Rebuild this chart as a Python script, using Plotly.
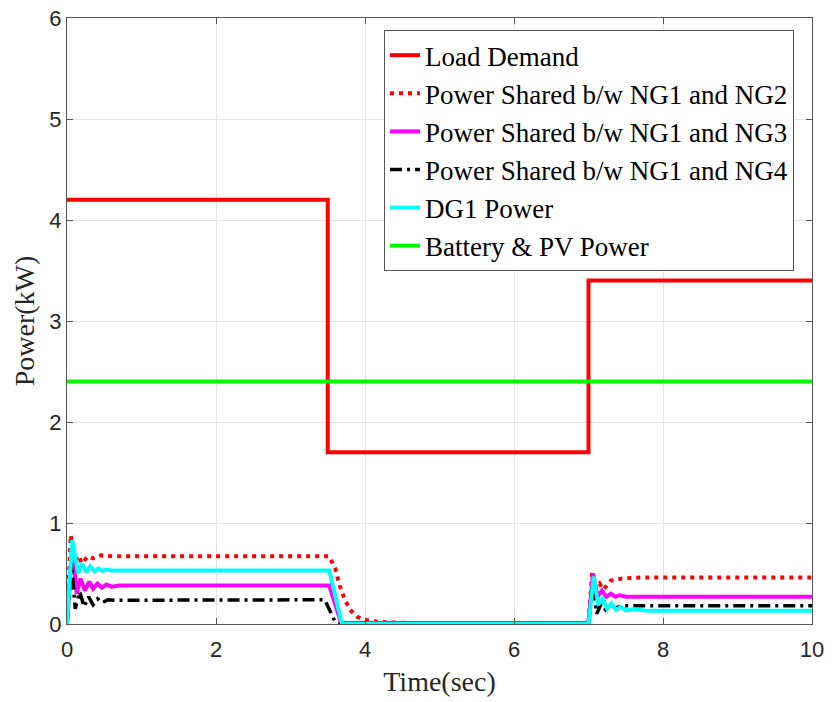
import plotly.graph_objects as go

# ---- data ----
load_t = [0, 3.5, 7, 10]
load_p = [4.2, 1.7, 3.4, 3.4]

batt_t = [0, 10]
batt_p = [2.4, 2.4]

ng2_t = [0, 0.05, 0.1, 0.15, 0.2, 0.28, 0.35, 0.45, 0.6, 3.52, 3.6, 3.66, 3.73, 3.8, 3.9, 4.0, 4.2, 4.6,
         7.0, 7.05, 7.1, 7.15, 7.2, 7.3, 7.45, 7.7, 10]
ng2_p = [0, 0.88, 0.62, 0.68, 0.6, 0.67, 0.65, 0.68, 0.67, 0.67, 0.55, 0.38, 0.24, 0.14, 0.07, 0.04, 0.02, 0.01,
         0.01, 0.52, 0.36, 0.40, 0.34, 0.43, 0.45, 0.46, 0.46]

ng3_t = [0, 0.07, 0.13, 0.18, 0.24, 0.3, 0.35, 0.41, 0.47, 0.53, 0.6, 0.7, 3.52, 3.68,
         7.0, 7.06, 7.12, 7.18, 7.24, 7.3, 7.36, 7.42, 7.5, 10]
ng3_p = [0, 0.78, 0.30, 0.45, 0.33, 0.42, 0.35, 0.40, 0.36, 0.39, 0.37, 0.38, 0.38, 0.01,
         0.01, 0.50, 0.27, 0.33, 0.27, 0.30, 0.27, 0.285, 0.27, 0.27]

ng4_t = [0, 0.06, 0.11, 0.17, 0.23, 0.29, 0.35, 0.41, 0.47, 0.55, 0.65, 3.46, 3.6, 3.7,
         7.0, 7.06, 7.11, 7.17, 7.23, 7.3, 7.36, 7.45, 10]
ng4_p = [0, 0.6, 0.15, 0.32, 0.17, 0.27, 0.19, 0.25, 0.21, 0.24, 0.235, 0.24, 0.02, 0.0,
         0.0, 0.42, 0.10, 0.20, 0.14, 0.19, 0.16, 0.18, 0.18]

dg1_t = [0, 0.07, 0.15, 0.2, 0.26, 0.31, 0.37, 0.42, 0.48, 0.53, 0.6, 0.8, 3.52, 3.69,
         7.0, 7.07, 7.13, 7.19, 7.25, 7.31, 7.37, 7.43, 7.5, 7.6, 7.8, 10]
dg1_p = [0, 0.83, 0.50, 0.60, 0.51, 0.57, 0.52, 0.55, 0.525, 0.54, 0.53, 0.53, 0.53, 0.0,
         0.0, 0.47, 0.19, 0.25, 0.15, 0.20, 0.14, 0.17, 0.135, 0.145, 0.13, 0.13]

x_ticks = [0, 2, 4, 6, 8, 10]
y_ticks = [0, 1, 2, 3, 4, 5, 6]

fig = go.Figure()
fig.add_trace(go.Scatter(x=load_t, y=load_p, mode="lines", line=dict(color="#FF0000", width=4, shape="hv"),
                         name="Load Demand", legendgroup="a"))
fig.add_trace(go.Scatter(x=ng2_t, y=ng2_p, mode="lines", line=dict(color="#FF0000", width=4, dash="4px,5px"),
                         name="Power Shared b/w NG1 and NG2", legendgroup="b"))
fig.add_trace(go.Scatter(x=ng3_t, y=ng3_p, mode="lines", line=dict(color="#FF00FF", width=4),
                         name="Power Shared b/w NG1 and NG3", legendgroup="c"))
fig.add_trace(go.Scatter(x=ng4_t, y=ng4_p, mode="lines", line=dict(color="#000000", width=3.5, dash="12px,5px,3px,5px"),
                         name="Power Shared b/w NG1 and NG4", legendgroup="d"))
fig.add_trace(go.Scatter(x=dg1_t, y=dg1_p, mode="lines", line=dict(color="#00FFFF", width=4),
                         name="DG1 Power", legendgroup="e"))
fig.add_trace(go.Scatter(x=batt_t, y=batt_p, mode="lines", line=dict(color="#00FF00", width=4),
                         name="Battery & PV Power", legendgroup="f"))

axis_common = dict(showline=True, linecolor="#555555", linewidth=1, mirror="ticks",
                   ticks="inside", ticklen=6, tickcolor="#555555",
                   showgrid=True, gridcolor="#E3E3E3", gridwidth=1, zeroline=False,
                   automargin=False,
                   tickfont=dict(family="Liberation Sans, Arial", size=22, color="#262626"))

title_font = dict(family="Liberation Serif, Times New Roman", size=28, color="#262626")

fig.update_layout(
    width=832, height=702,
    margin=dict(l=67, r=20, t=18, b=78),
    plot_bgcolor="white", paper_bgcolor="white",
    showlegend=True,
    legend=dict(x=0.4255, y=0.980, xanchor="left", yanchor="top",
                bgcolor="white", bordercolor="#555555", borderwidth=1,
                font=dict(family="Liberation Serif, Times New Roman", size=27, color="black"),
                tracegroupgap=0, traceorder="normal"),
    xaxis=dict(range=[0, 10], tickvals=x_ticks, ticklabelstandoff=6,
               title=dict(text="Time(sec)", font=title_font, standoff=9),
               **axis_common),
    yaxis=dict(range=[0, 6], tickvals=y_ticks,
               title=dict(text="Power(kW)", font=title_font, standoff=6),
               **axis_common),
)

fig.write_html("out.html")
